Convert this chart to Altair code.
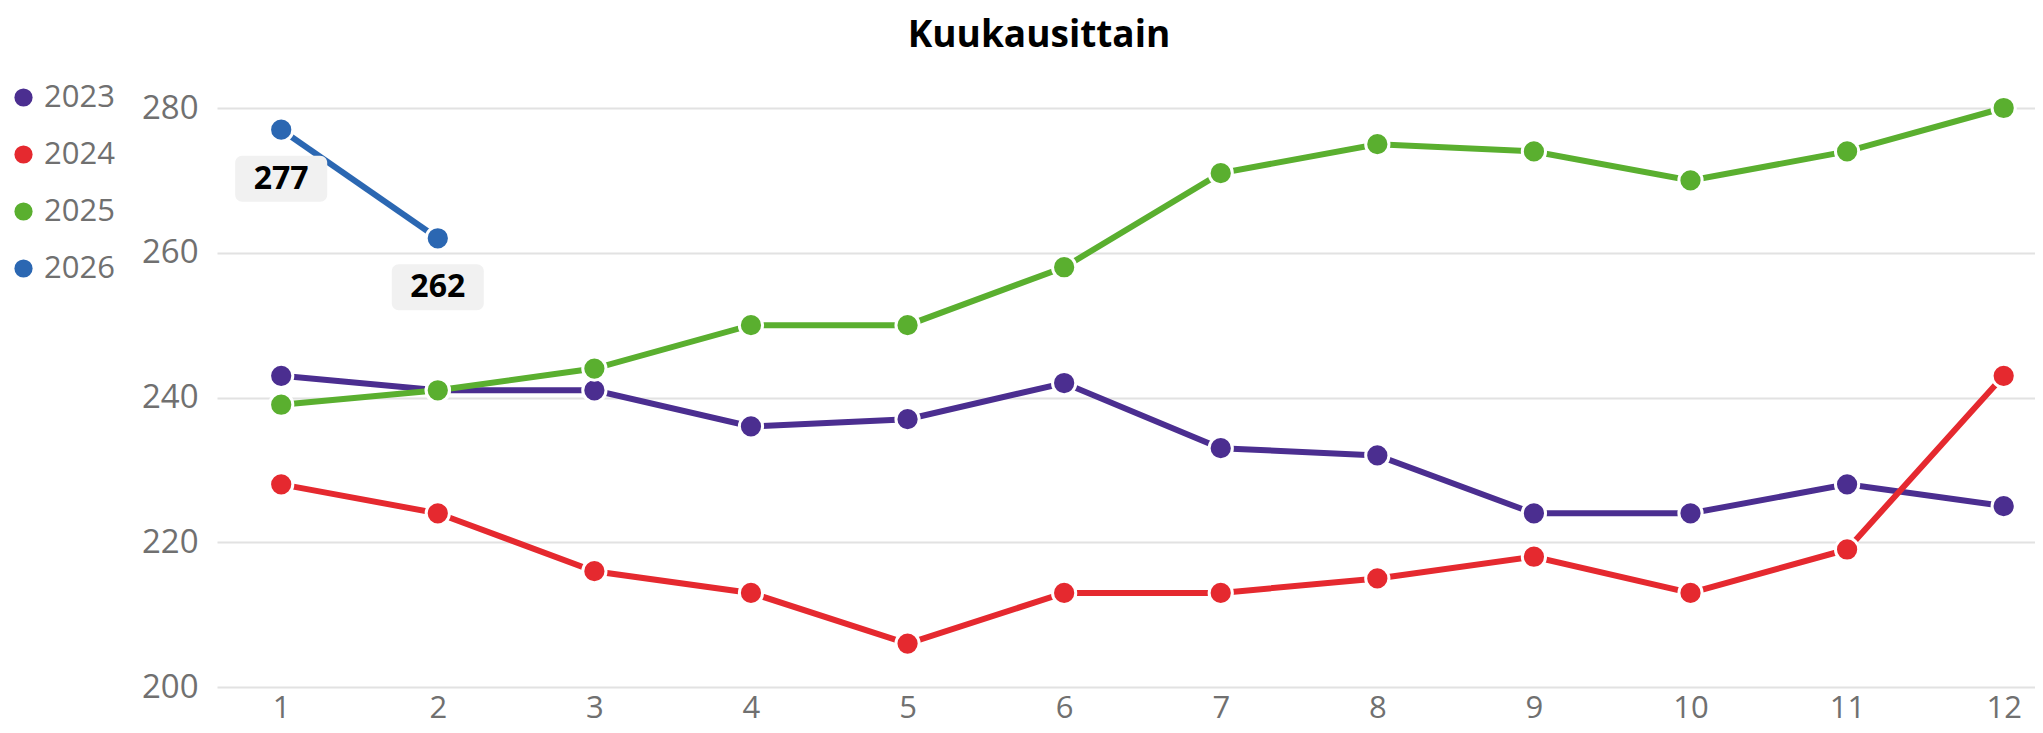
import altair as alt
import pandas as pd

months = list(range(1, 13))
v2023 = [243, 241, 241, 236, 237, 242, 233, 232, 224, 224, 228, 225]
v2024 = [228, 224, 216, 213, 206, 213, 213, 215, 218, 213, 219, 243]
v2025 = [239, 241, 244, 250, 250, 258, 271, 275, 274, 270, 274, 280]
v2026 = [277, 262]

years = ["2023", "2024", "2025", "2026"]
colors = ["#4b2e90", "#e5292f", "#5aaf2f", "#2b67b2"]
y_ticks = [200, 220, 240, 260, 280]

rows = []
for yr, vals in zip(years, [v2023, v2024, v2025, v2026]):
    for m, v in zip(months, vals):
        rows.append({"Kuukausi": m, "Arvo": v, "Vuosi": yr})
df = pd.DataFrame(rows)
lab = df[df["Vuosi"] == "2026"]

FONT = "Open Sans"

x = alt.X("Kuukausi:Q",
          scale=alt.Scale(domain=[0.59, 12.2], nice=False, zero=False),
          axis=alt.Axis(values=months, grid=False, domain=False, ticks=False, tickSize=0,
                        labelFontSize=31, labelColor="#707070", labelFont=FONT,
                        labelBaseline="alphabetic", labelPadding=30,
                        title=None, labelFlush=False))
y = alt.Y("Arvo:Q",
          scale=alt.Scale(domain=[200, 280], nice=False, zero=False),
          axis=alt.Axis(values=y_ticks, grid=True, gridColor="#e2e2e2", gridWidth=2,
                        domain=False, ticks=False, labelFontSize=33,
                        labelColor="#707070", labelFont=FONT, labelPadding=19,
                        title=None))
color = alt.Color("Vuosi:N",
                  scale=alt.Scale(domain=years, range=colors),
                  legend=alt.Legend(title=None, orient="none", legendX=-209, legendY=-26,
                                    symbolType="circle", symbolSize=330,
                                    symbolStrokeWidth=0, labelFontSize=31,
                                    labelColor="#707070", labelFont=FONT,
                                    labelOffset=5, rowPadding=25))

base = alt.Chart(df)
lines = base.mark_line(strokeWidth=6).encode(x=x, y=y, color=color, detail="Vuosi:N")
points = base.mark_circle(size=540, opacity=1, stroke="white", strokeWidth=3).encode(
    x=x, y=y, color=alt.Color("Vuosi:N", scale=alt.Scale(domain=years, range=colors), legend=None))

boxes = alt.Chart(lab).mark_rect(width=92, height=46, cornerRadius=7, color="#f1f1f1",
                                 yOffset=49).encode(x=x, y=y)
texts = alt.Chart(lab).mark_text(font=FONT, fontSize=32, fontWeight="bold", color="#000000",
                                 dy=49, baseline="middle", align="center").encode(
    x=x, y=y, text="Arvo:Q")

chart = alt.layer(lines, points, boxes, texts).properties(
    width=1818, height=579,
    title=alt.TitleParams("Kuukausittain", font=FONT, fontSize=37, fontWeight="bold",
                          color="#000000", anchor="middle", dx=-87, offset=27),
    autosize=alt.AutoSizeParams(type="none"),
    padding={"left": 209, "top": 100, "right": 0, "bottom": 38},
).configure_view(stroke=None)

chart.save("out.html", embed_options={"renderer": "svg", "actions": False})
